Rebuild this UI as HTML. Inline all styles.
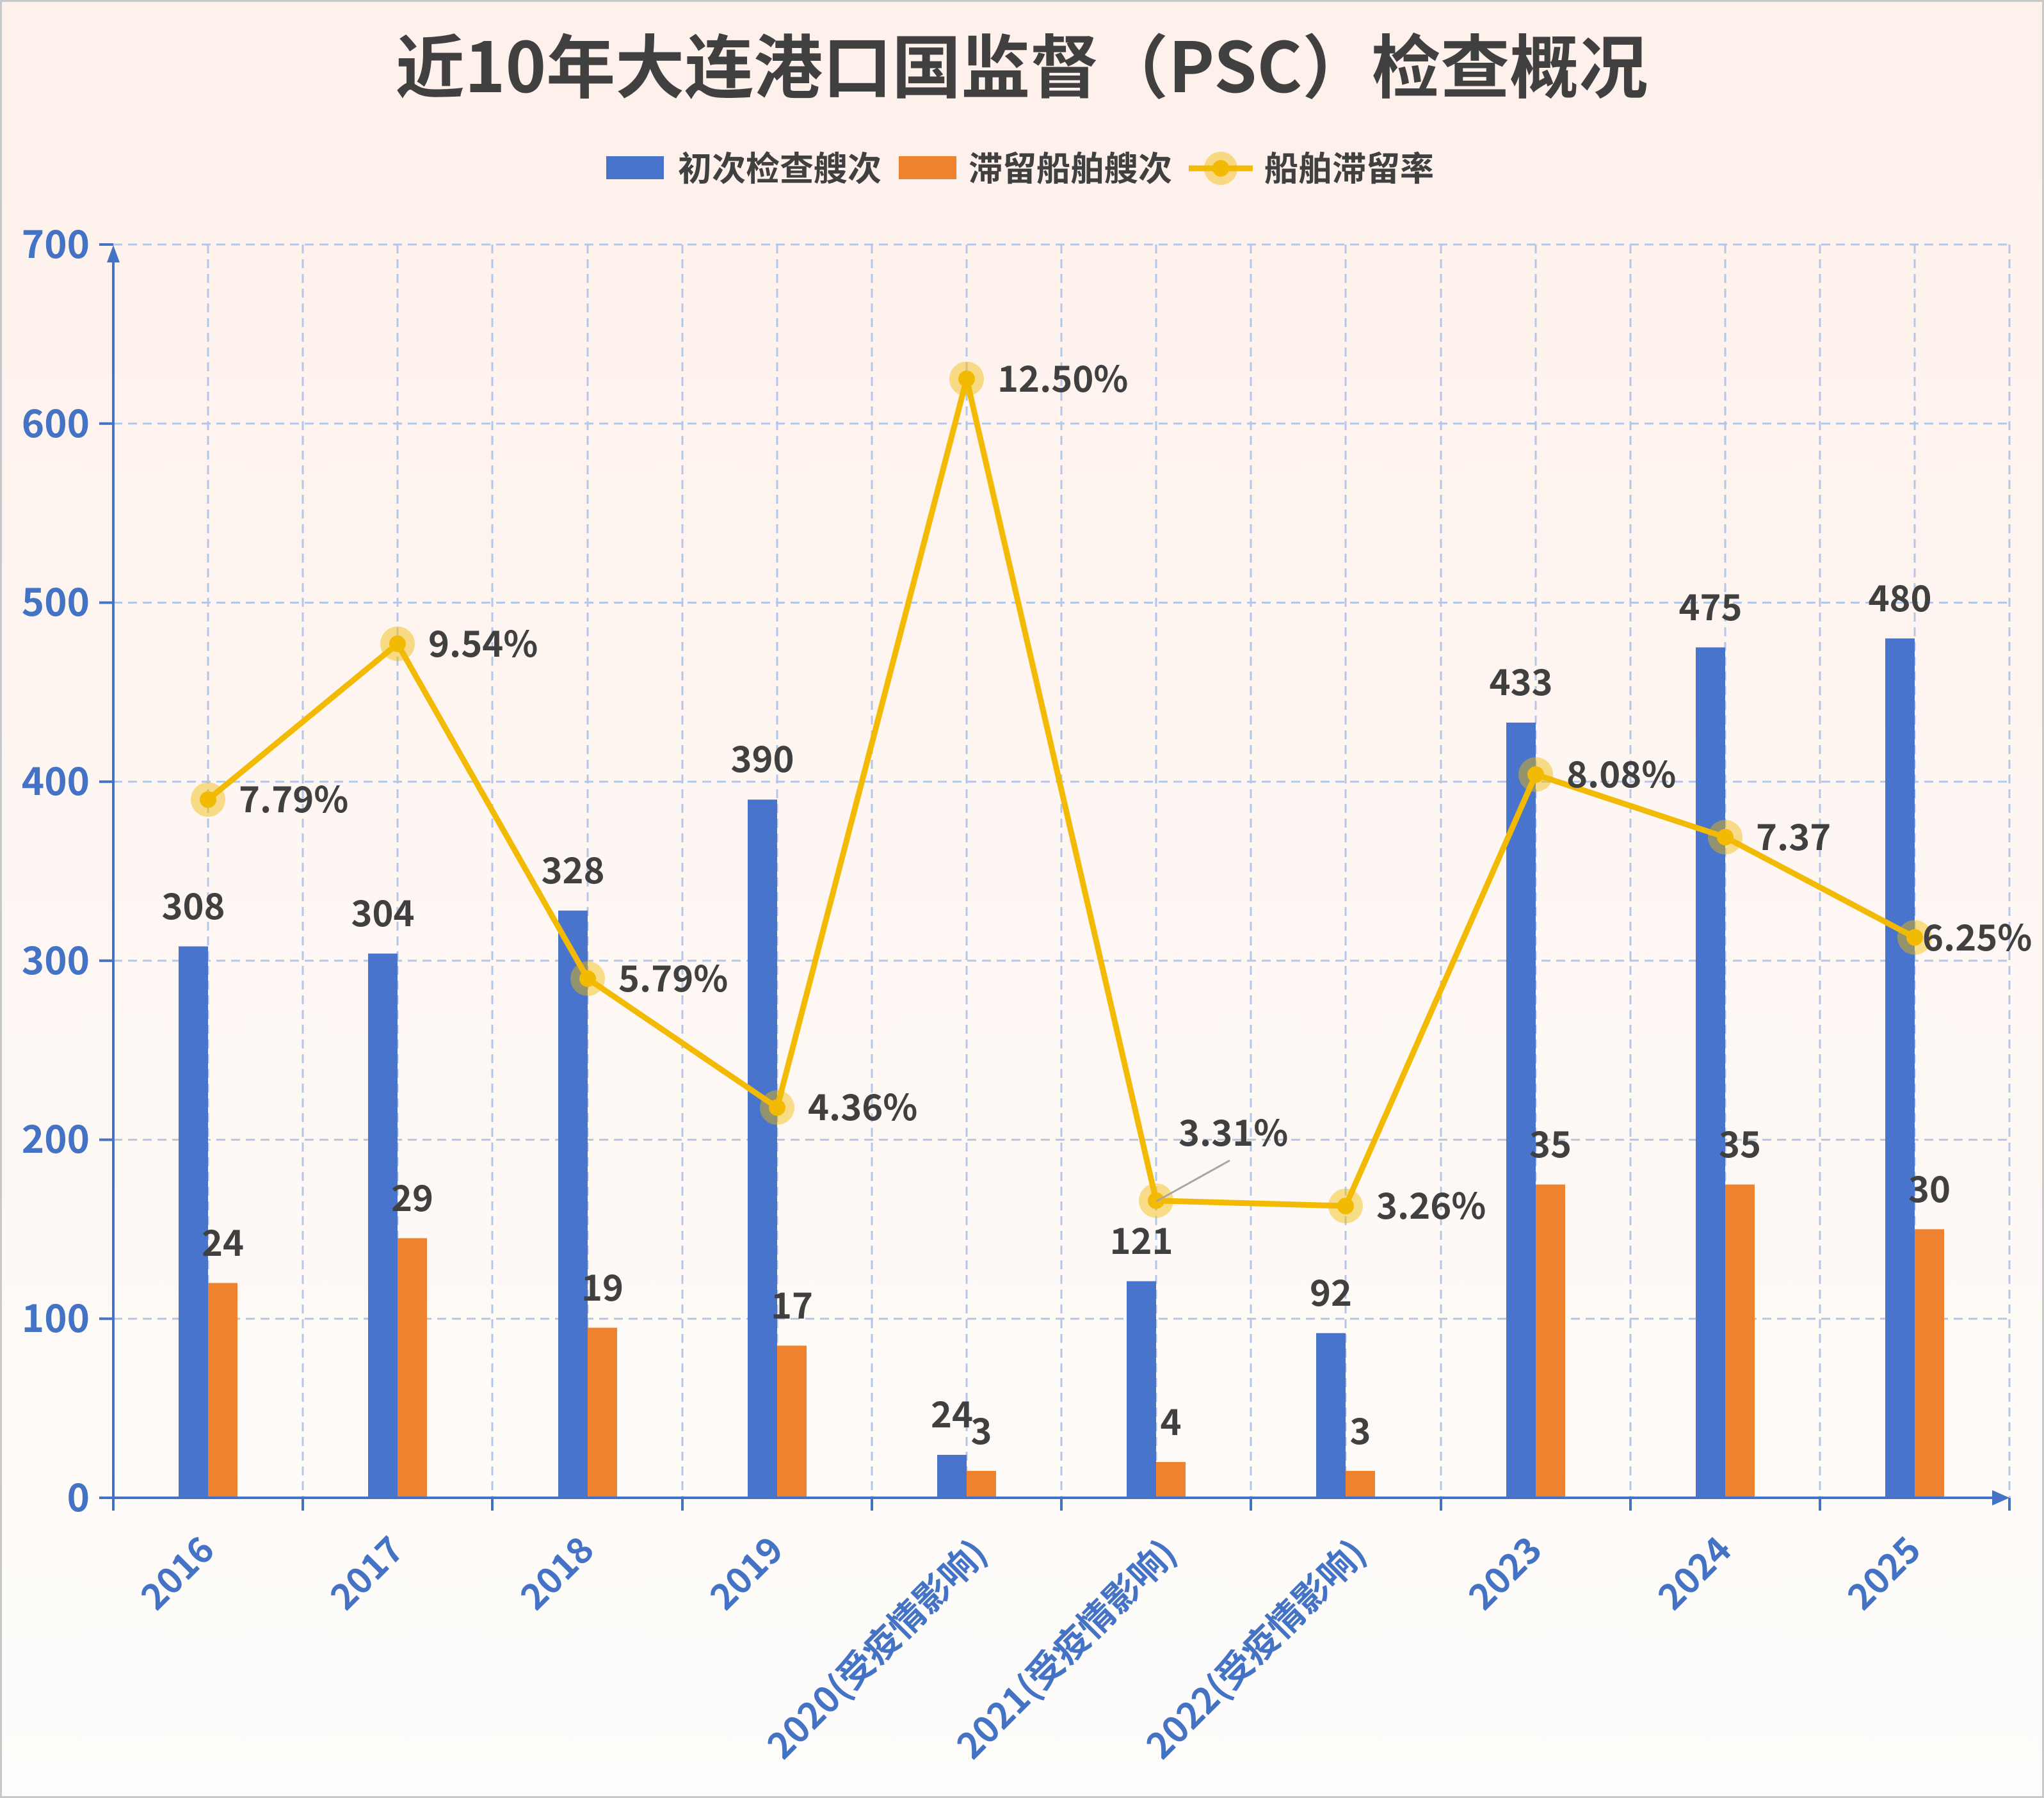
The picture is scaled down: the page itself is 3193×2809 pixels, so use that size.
<!DOCTYPE html>
<html><head><meta charset="utf-8"><style>
html,body{margin:0;padding:0;}
body{width:3193px;height:2809px;overflow:hidden;}
svg{display:block;}
text{font-family:"Noto Sans CJK SC","Liberation Sans",sans-serif;font-weight:bold;}
</style></head><body>
<svg width="3193" height="2809" viewBox="0 0 3193 2809" xmlns="http://www.w3.org/2000/svg">
<defs>
<linearGradient id="bg" x1="0" y1="0" x2="0" y2="1">
<stop offset="0" stop-color="#FEF0EA"/><stop offset="1" stop-color="#FEFDFB"/>
</linearGradient>
</defs>
<rect x="1.5" y="1.5" width="3190" height="2806" fill="url(#bg)" stroke="#C8C8C8" stroke-width="3"/>
<text x="1596" y="144" font-size="108" fill="#404040" text-anchor="middle">近10年大连港口国监督（PSC）检查概况</text>
<!-- legend -->
<rect x="947" y="244" width="90" height="36" fill="#4874CB"/>
<text x="1059" y="282" font-size="53" fill="#404040">初次检查艘次</text>
<rect x="1404" y="244" width="90" height="36" fill="#EE822F"/>
<text x="1513" y="282" font-size="53" fill="#404040">滞留船舶艘次</text>
<line x1="1857" y1="263" x2="1957" y2="263" stroke="#F2BA02" stroke-width="9"/>
<circle cx="1907" cy="263" r="26" fill="#F2BA02" opacity="0.45"/>
<circle cx="1907" cy="263" r="13" fill="#F2BA02"/>
<text x="1975" y="282" font-size="53" fill="#404040">船舶滞留率</text>
<!-- grid -->
<g stroke="#B4C7E7" stroke-width="3" stroke-dasharray="14 9" fill="none">
<line x1="177" y1="2060.3" x2="3139" y2="2060.3"/>
<line x1="177" y1="1780.6" x2="3139" y2="1780.6"/>
<line x1="177" y1="1500.9" x2="3139" y2="1500.9"/>
<line x1="177" y1="1221.2" x2="3139" y2="1221.2"/>
<line x1="177" y1="941.5" x2="3139" y2="941.5"/>
<line x1="177" y1="661.8" x2="3139" y2="661.8"/>
<line x1="177" y1="382" x2="3139" y2="382"/>
<line x1="325" y1="382" x2="325" y2="2340"/><line x1="473" y1="382" x2="473" y2="2340"/>
<line x1="621" y1="382" x2="621" y2="2340"/><line x1="769" y1="382" x2="769" y2="2340"/>
<line x1="918" y1="382" x2="918" y2="2340"/><line x1="1066" y1="382" x2="1066" y2="2340"/>
<line x1="1214" y1="382" x2="1214" y2="2340"/><line x1="1362" y1="382" x2="1362" y2="2340"/>
<line x1="1510" y1="382" x2="1510" y2="2340"/><line x1="1658" y1="382" x2="1658" y2="2340"/>
<line x1="1806" y1="382" x2="1806" y2="2340"/><line x1="1954" y1="382" x2="1954" y2="2340"/>
<line x1="2102" y1="382" x2="2102" y2="2340"/><line x1="2251" y1="382" x2="2251" y2="2340"/>
<line x1="2399" y1="382" x2="2399" y2="2340"/><line x1="2547" y1="382" x2="2547" y2="2340"/>
<line x1="2695" y1="382" x2="2695" y2="2340"/><line x1="2843" y1="382" x2="2843" y2="2340"/>
<line x1="2991" y1="382" x2="2991" y2="2340"/><line x1="3139" y1="382" x2="3139" y2="2340"/>
</g>
<!-- bars -->
<g fill="#4874CB">
<rect x="279" y="1478.5" width="46" height="861.5"/>
<rect x="575" y="1489.7" width="46" height="850.3"/>
<rect x="872" y="1422.6" width="46" height="917.4"/>
<rect x="1168" y="1249.2" width="46" height="1090.8"/>
<rect x="1464" y="2272.9" width="46" height="67.1"/>
<rect x="1760" y="2001.6" width="46" height="338.4"/>
<rect x="2056" y="2082.7" width="46" height="257.3"/>
<rect x="2353" y="1128.9" width="46" height="1211.1"/>
<rect x="2649" y="1011.4" width="46" height="1328.6"/>
<rect x="2945" y="997.4" width="46" height="1342.6"/>
</g>
<g fill="#EE822F">
<rect x="325" y="2004.4" width="46" height="335.6"/>
<rect x="621" y="1934.4" width="46" height="405.6"/>
<rect x="918" y="2074.3" width="46" height="265.7"/>
<rect x="1214" y="2102.3" width="46" height="237.7"/>
<rect x="1510" y="2298" width="46" height="42"/>
<rect x="1806" y="2284.1" width="46" height="55.9"/>
<rect x="2102" y="2298" width="46" height="42"/>
<rect x="2399" y="1850.5" width="46" height="489.5"/>
<rect x="2695" y="1850.5" width="46" height="489.5"/>
<rect x="2991" y="1920.4" width="46" height="419.6"/>
</g>
<!-- axes -->
<g stroke="#4472C4" stroke-width="4" fill="none">
<line x1="177" y1="2340" x2="3135" y2="2340"/>
<line x1="177" y1="2340" x2="177" y2="390"/>
<line x1="155" y1="2340" x2="177" y2="2340"/><line x1="155" y1="2060.3" x2="177" y2="2060.3"/>
<line x1="155" y1="1780.6" x2="177" y2="1780.6"/><line x1="155" y1="1500.9" x2="177" y2="1500.9"/>
<line x1="155" y1="1221.2" x2="177" y2="1221.2"/><line x1="155" y1="941.5" x2="177" y2="941.5"/>
<line x1="155" y1="661.8" x2="177" y2="661.8"/><line x1="155" y1="382" x2="177" y2="382"/>
<line x1="177" y1="2340" x2="177" y2="2360"/><line x1="473" y1="2340" x2="473" y2="2360"/>
<line x1="769" y1="2340" x2="769" y2="2360"/><line x1="1066" y1="2340" x2="1066" y2="2360"/>
<line x1="1362" y1="2340" x2="1362" y2="2360"/><line x1="1658" y1="2340" x2="1658" y2="2360"/>
<line x1="1954" y1="2340" x2="1954" y2="2360"/><line x1="2251" y1="2340" x2="2251" y2="2360"/>
<line x1="2547" y1="2340" x2="2547" y2="2360"/><line x1="2843" y1="2340" x2="2843" y2="2360"/>
<line x1="3139" y1="2340" x2="3139" y2="2360"/>
</g>
<polygon points="177,383 167,410 187,410" fill="#4472C4"/>
<polygon points="3139,2340 3112,2328 3112,2352" fill="#4472C4"/>
<g font-size="60" fill="#4472C4" text-anchor="end">
<text x="140" y="2361">0</text><text x="140" y="2081">100</text><text x="140" y="1801">200</text>
<text x="140" y="1522">300</text><text x="140" y="1242">400</text><text x="140" y="962">500</text>
<text x="140" y="683">600</text><text x="140" y="403">700</text>
</g>
<g font-size="56" fill="#4472C4" text-anchor="end">
<text transform="translate(338,2425) rotate(-45)">2016</text>
<text transform="translate(634,2425) rotate(-45)">2017</text>
<text transform="translate(931,2425) rotate(-45)">2018</text>
<text transform="translate(1227,2425) rotate(-45)">2019</text>
<text transform="translate(1545,2430) rotate(-45)">2020(受疫情影响)</text>
<text transform="translate(1841,2430) rotate(-45)">2021(受疫情影响)</text>
<text transform="translate(2137,2430) rotate(-45)">2022(受疫情影响)</text>
<text transform="translate(2412,2425) rotate(-45)">2023</text>
<text transform="translate(2708,2425) rotate(-45)">2024</text>
<text transform="translate(3004,2425) rotate(-45)">2025</text>
</g>
<!-- line -->
<polyline points="325,1249.2 621,1005.8 918,1528.9 1214,1730.3 1510,591.9 1806,1875.7 2102,1884.1 2399,1210 2695,1307.9 2991,1464.5" fill="none" stroke="#F2BA02" stroke-width="9" stroke-linejoin="round"/>
<g fill="#F2BA02">
<g opacity="0.45">
<circle cx="325" cy="1249.2" r="27"/><circle cx="621" cy="1005.8" r="27"/><circle cx="918" cy="1528.9" r="27"/>
<circle cx="1214" cy="1730.3" r="27"/><circle cx="1510" cy="591.9" r="27"/><circle cx="1806" cy="1875.7" r="27"/>
<circle cx="2102" cy="1884.1" r="27"/><circle cx="2399" cy="1210" r="27"/><circle cx="2695" cy="1307.9" r="27"/>
<circle cx="2991" cy="1464.5" r="27"/>
</g>
<circle cx="325" cy="1249.2" r="13"/><circle cx="621" cy="1005.8" r="13"/><circle cx="918" cy="1528.9" r="13"/>
<circle cx="1214" cy="1730.3" r="13"/><circle cx="1510" cy="591.9" r="13"/><circle cx="1806" cy="1875.7" r="13"/>
<circle cx="2102" cy="1884.1" r="13"/><circle cx="2399" cy="1210" r="13"/><circle cx="2695" cy="1307.9" r="13"/>
<circle cx="2991" cy="1464.5" r="13"/>
</g>
<line x1="1806" y1="1877" x2="1921" y2="1813" stroke="#A6A6A6" stroke-width="3"/>
<!-- labels -->
<g font-size="56" fill="#404040" text-anchor="middle">
<text x="302" y="1436">308</text><text x="598" y="1447">304</text><text x="895" y="1380">328</text>
<text x="1191" y="1206">390</text><text x="1487" y="2230">24</text><text x="1783" y="1959">121</text>
<text x="2079" y="2040">92</text><text x="2376" y="1086">433</text><text x="2672" y="969">475</text>
<text x="2968" y="955">480</text>
<text x="348" y="1962">24</text><text x="644" y="1892">29</text><text x="941" y="2032">19</text>
<text x="1237" y="2060">17</text><text x="1533" y="2256">3</text><text x="1829" y="2242">4</text>
<text x="2125" y="2256">3</text><text x="2422" y="1808">35</text><text x="2718" y="1808">35</text>
<text x="3014" y="1878">30</text>
</g>
<g font-size="56" fill="#404040">
<text x="373" y="1269">7.79%</text>
<text x="669" y="1026">9.54%</text>
<text x="966" y="1549">5.79%</text>
<text x="1262" y="1750">4.36%</text>
<text x="1558" y="612">12.50%</text>
<text x="1841" y="1790">3.31%</text>
<text x="2150" y="1904">3.26%</text>
<text x="2447" y="1230">8.08%</text>
<text x="2743" y="1328">7.37</text>
<text x="3003" y="1485">6.25%</text>
</g>
</svg>
</body></html>
